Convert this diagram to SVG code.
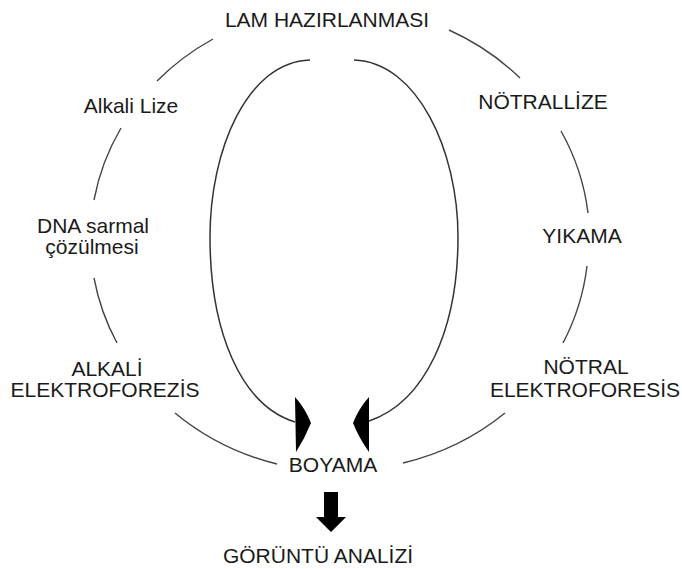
<svg xmlns="http://www.w3.org/2000/svg" width="682" height="569" viewBox="0 0 682 569">
<style>
.t{font-family:"Liberation Sans",Arial,sans-serif;font-size:21px;fill:#1a1a1a;text-anchor:middle}
.seg{fill:none;stroke:#444;stroke-width:1.4}
.loop{fill:none;stroke:#333;stroke-width:1.5}
.head{fill:#000}
</style>
<rect width="682" height="569" fill="#fff"/>
<g id="connectors">
<path class="seg" d="M157,81 A249,233 0 0 1 213,39"/>
<path class="seg" d="M449,30 A249,233 0 0 1 520,78"/>
<path class="seg" d="M561,131 A249,233 0 0 1 588,213"/>
<path class="seg" d="M587,266 A249,233 0 0 1 563,343"/>
<path class="seg" d="M505,413 A249,233 0 0 1 403,463"/>
<path class="seg" d="M277,464 A249,233 0 0 1 175,413"/>
<path class="seg" d="M117,343 A249,233 0 0 1 94,278"/>
<path class="seg" d="M94,200 A249,233 0 0 1 121,128"/>
<path class="loop" d="M310,60 C247,62 210,150 210,237 C210,330 240,405 295,422"/>
<path class="loop" d="M354,60 C417,62 458,150 458,237 C458,330 425,402 369,421"/>
<path class="head" d="M295,397 Q305,408 311,423 Q305,438 296,452 Z"/>
<path class="head" d="M369,397 Q359,408 353,423 Q359,438 369,452 Z"/>
<polygon class="head" points="324,492 338,492 338,517 346,517 331,532 316,517 324,517"/>
</g>
<g id="n-lam"><text class="t" x="327" y="27">LAM HAZIRLANMASI</text></g>
<g id="n-alkali-lize"><text class="t" x="131" y="113">Alkali Lize</text></g>
<g id="n-dna"><text class="t" x="93" y="233">DNA sarmal</text><text class="t" x="92" y="254">çözülmesi</text></g>
<g id="n-alkali-elektro"><text class="t" x="107" y="376">ALKALİ</text><text class="t" x="105" y="397">ELEKTROFOREZİS</text></g>
<g id="n-notrallize"><text class="t" x="543" y="109">NÖTRALLİZE</text></g>
<g id="n-yikama"><text class="t" x="582" y="243">YIKAMA</text></g>
<g id="n-notral-elektro"><text class="t" x="586" y="374">NÖTRAL</text><text class="t" x="585" y="397">ELEKTROFORESİS</text></g>
<g id="n-boyama"><text class="t" x="333" y="472">BOYAMA</text></g>
<g id="n-goruntu"><text class="t" x="318" y="563">GÖRÜNTÜ ANALİZİ</text></g>
</svg>
